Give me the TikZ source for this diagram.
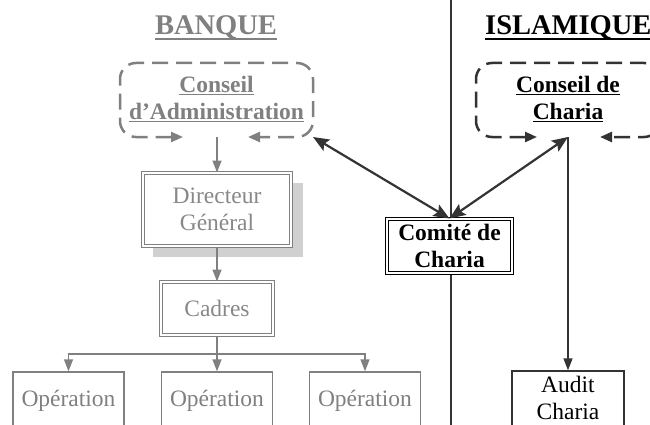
\documentclass[tikz,border=0pt]{standalone}
\usepackage{fontspec}
\setmainfont{Liberation Serif}
\usetikzlibrary{arrows.meta}
\definecolor{gr}{HTML}{808080}
\definecolor{grt}{HTML}{888888}
\definecolor{dk}{HTML}{333333}
\definecolor{shd}{HTML}{D0D0D0}
\newcommand\myul[1]{\setbox0\hbox{#1}\leavevmode\rlap{\rule[-3pt]{\wd0}{1.5pt}}\box0}
\newcommand\myulT[1]{\setbox0\hbox{#1}\leavevmode\rlap{\rule[-5.5pt]{\wd0}{2pt}}\box0}
\begin{document}
\begin{tikzpicture}[x=1pt,y=-1pt,
  txt/.style={font=\fontsize{23.5}{27.5}\selectfont, align=center, inner sep=0pt},
  btxt/.style={font=\fontsize{23.5}{27}\selectfont\bfseries, align=center, inner sep=0pt},
  ttl/.style={font=\fontsize{28.5}{30}\selectfont\bfseries, inner sep=0pt},
  dbox/.style={txt, draw=#1, double=white, line width=1pt, double distance=1.6pt, fill=white},
  sbox/.style={draw=#1, line width=1.4pt, fill=white, inner sep=0pt},
  garrow/.style={gr, line width=1.4pt, -{Triangle[length=12pt,width=9pt]}},
  gline/.style={gr, line width=1.4pt},
  darrow/.style={dk, line width=1.5pt, -{Triangle[length=12pt,width=9pt]}},
  biarrow/.style={dk, line width=2.2pt, {Stealth[length=16pt,width=13pt,inset=3pt]}-{Stealth[length=16pt,width=13pt,inset=3pt]}},
  dashbox/.style={#1, line width=2.5pt, dash pattern=on 16pt off 8pt, rounded corners=16pt,
     {Triangle[length=12pt,width=10pt]}-{Triangle[length=12pt,width=10pt]}}
]
\useasboundingbox (0,0) rectangle (650,425);
\clip (0,0) rectangle (650,425);
\fill[white] (0,0) rectangle (650,425);

% titles
\node[ttl, text=gr, anchor=base] (banque) at (216,35) {\myulT{BANQUE}};
\node[ttl, text=black, anchor=base west] (islam) at (485,35) {\myulT{ISLAMIQUE}};

% divider
\draw[dk, line width=2.7pt] (451,0) -- (451,425);

% Conseil d'Administration
\node[btxt, text=gr] (ca) at (216.5,99) {\myul{Conseil}\\\myul{d’Administration}};
\draw[dashbox=gr] (183,137) -- (120,137) -- (120,63) -- (313,63) -- (313,137) -- (248,137);
\coordinate (caBot) at (217,137);
\coordinate (caArr) at (313,137);

% Conseil de Charia
\node[btxt, text=black] (cc) at (568,99) {\myul{Conseil de}\\\myul{Charia}};
\draw[dashbox=dk] (537,137) -- (476,137) -- (476,63) -- (660,63) -- (660,137) -- (600,137);
\coordinate (ccBot) at (568,137);

% Directeur General
\fill[shd] (153,183) rectangle (303,257);
\node[dbox=gr, text=grt, minimum width=148pt, minimum height=73pt] (dg) at (217,209.5) {Directeur\\Général};

% Cadres
\node[dbox=gr, text=grt, minimum width=112pt, minimum height=53pt] (cadres) at (217,308.5) {Cadres};
\coordinate (bar) at (217,354);

% Operations
\node[sbox=gr, minimum width=111pt, minimum height=80pt] (op1) at (68.5,412) {};
\node[sbox=gr, minimum width=111pt, minimum height=80pt] (op2) at (217,412) {};
\node[sbox=gr, minimum width=111pt, minimum height=80pt] (op3) at (365,412) {};
\node[txt, text=gr] (op1t) at (68.5,401) {Opération};
\node[txt, text=gr] (op2t) at (217,401) {Opération};
\node[txt, text=gr] (op3t) at (365,401) {Opération};

% Comite
\node[dbox=black, btxt, minimum width=125pt, minimum height=54pt] (comite) at (449.5,246) {Comité de\\Charia};

% Audit
\node[sbox=dk, minimum width=112pt, minimum height=80pt] (audit) at (568,411) {};
\node[txt, text=black] (auditt) at (568,398) {Audit\\Charia};

% connectors
\draw[garrow] (caBot) -- (dg.north);
\draw[garrow] (dg.south) -- (cadres.north);
\draw[gline] (cadres.south) -- (bar);
\draw[garrow] (bar) -| (op1.north);
\draw[garrow] (bar) -- (op2.north);
\draw[garrow] (bar) -| (op3.north);
\draw[biarrow] (caArr) -- (comite.north);
\draw[biarrow] (ccBot) -- (comite.north);
\draw[darrow] (ccBot) -- (audit.north);
\end{tikzpicture}
\end{document}
